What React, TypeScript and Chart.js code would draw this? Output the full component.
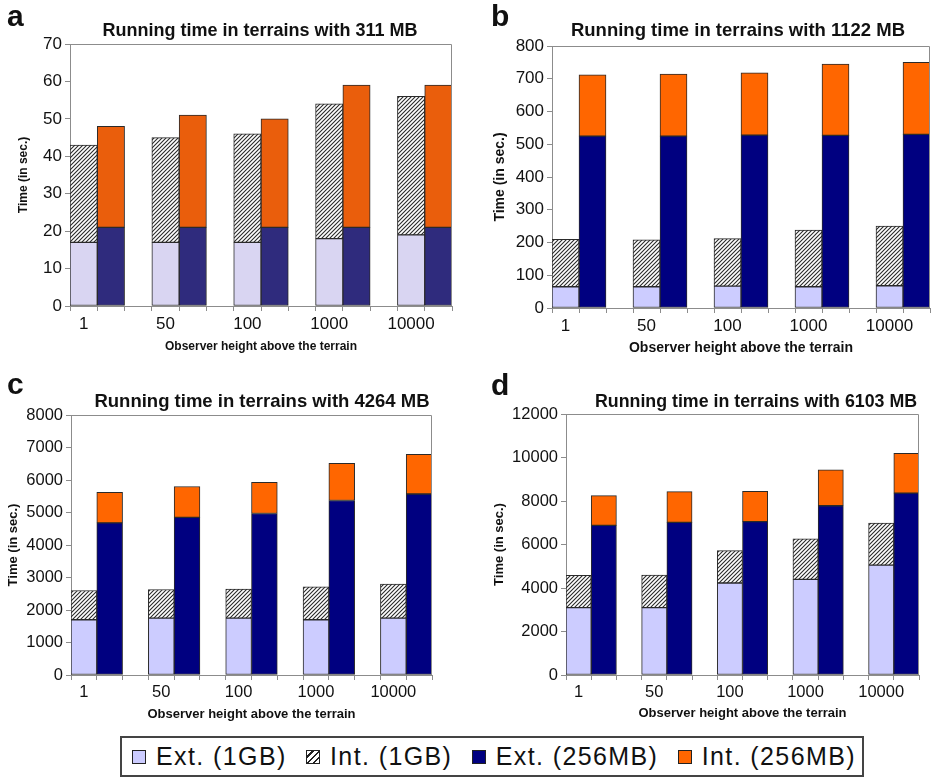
import React, { useEffect, useRef } from 'react';
import { Chart, registerables } from 'chart.js';
Chart.register(...registerables);

// ---------- data ----------
const heights = ['1', '50', '100', '1000', '10000'];
const legendLabels = ['Ext. (1GB)', 'Int. (1GB)', 'Ext. (256MB)', 'Int. (256MB)'];
const yAxisTitle = 'Time (in sec.)';
const xAxisTitle = 'Observer height above the terrain';

// panel a: 311 MB
const extA1G = [17, 17, 17, 18, 19];
const intA1G = [26, 28, 29, 36, 37];
const extA256 = [21, 21, 21, 21, 21];
const intA256 = [27, 30, 29, 38, 38];

// panel b: 1122 MB
const extB1G = [65, 65, 67, 65, 68];
const intB1G = [145, 143, 145, 173, 182];
const extB256 = [525, 525, 528, 527, 530];
const intB256 = [187, 189, 190, 218, 220];

// panel c: 4264 MB
const extC1G = [1700, 1750, 1750, 1700, 1750];
const intC1G = [900, 880, 890, 1010, 1050];
const extC256 = [4680, 4850, 4970, 5370, 5570];
const intC256 = [940, 950, 960, 1140, 1220];

// panel d: 6103 MB
const extD1G = [3100, 3100, 4230, 4400, 5050];
const intD1G = [1480, 1490, 1490, 1860, 1930];
const extD256 = [6880, 7020, 7050, 7780, 8360];
const intD256 = [1370, 1410, 1390, 1650, 1830];

const titles = [
  'Running time in terrains with 311 MB',
  'Running time in terrains with 1122 MB',
  'Running time in terrains with 4264 MB',
  'Running time in terrains with 6103 MB',
];
const letters = ['a', 'b', 'c', 'd'];
const yMax = [70, 800, 8000, 12000];
const yStep = [10, 100, 1000, 2000];

// ---------- layout / style ----------
const FONT = '"Liberation Sans", Arial, Helvetica, sans-serif';

type Panel = {
  canvas: [number, number, number, number]; // left, top, width, height (page)
  area: [number, number, number, number]; // left, top, right, bottom (page)
  yTitleX: number;
  xTitleY: number;
  tickFont: number;
  axisTitleFont: number;
  titleX: number;
  titleY: number;
  titleFont: number;
  letterX: number;
  letterBase: number;
  colors: [string, string, string];
  data: number[][];
};

const panels: Panel[] = [
  {
    canvas: [0, 0, 466, 360], area: [70, 44, 452, 306], yTitleX: 24, xTitleY: 347,
    tickFont: 17, axisTitleFont: 12, titleX: 260, titleY: 30, titleFont: 18,
    letterX: 7, letterBase: 28, colors: ['#d9d5f2', '#2f2b7d', '#ea5e0c'],
    data: [extA1G, intA1G, extA256, intA256],
  },
  {
    canvas: [466, 0, 466, 360], area: [552, 46, 930, 308], yTitleX: 500, xTitleY: 348,
    tickFont: 17, axisTitleFont: 14, titleX: 738, titleY: 30, titleFont: 18.5,
    letterX: 491, letterBase: 28, colors: ['#ccccff', '#000080', '#ff6600'],
    data: [extB1G, intB1G, extB256, intB256],
  },
  {
    canvas: [0, 380, 466, 360], area: [71, 415, 432, 675], yTitleX: 13, xTitleY: 714,
    tickFont: 16.5, axisTitleFont: 13, titleX: 262, titleY: 401, titleFont: 18.5,
    letterX: 7, letterBase: 396, colors: ['#ccccff', '#000080', '#ff6600'],
    data: [extC1G, intC1G, extC256, intC256],
  },
  {
    canvas: [466, 380, 466, 360], area: [566, 414, 919, 675], yTitleX: 499, xTitleY: 713,
    tickFont: 16.5, axisTitleFont: 13, titleX: 756, titleY: 402, titleFont: 17.8,
    letterX: 491, letterBase: 397, colors: ['#ccccff', '#000080', '#ff6600'],
    data: [extD1G, intD1G, extD256, intD256],
  },
];

const SLOTS = 14;
function spread(vals: number[], offset: number) {
  const a: (number | null)[] = Array(SLOTS).fill(null);
  vals.forEach((v, k) => { a[3 * k + offset] = v; });
  return a;
}
const slotLabels = Array.from({ length: SLOTS }, (_, i) => (i % 3 === 0 ? heights[i / 3] : ''));

function makeHatch(): CanvasPattern | string {
  const c = document.createElement('canvas');
  c.width = 4; c.height = 4;
  const g = c.getContext('2d');
  if (!g) return '#888';
  g.fillStyle = '#ffffff';
  g.fillRect(0, 0, 4, 4);
  g.strokeStyle = '#2a2a2a';
  g.lineWidth = 1.1;
  g.beginPath();
  g.moveTo(-1, 5); g.lineTo(5, -1);
  g.moveTo(-1, 1); g.lineTo(1, -1);
  g.moveTo(3, 5); g.lineTo(5, 3);
  g.stroke();
  return g.createPattern(c, 'repeat') || '#888';
}

const framePlugin = {
  id: 'frame',
  afterDatasetsDraw(chart: any) {
    const { ctx, chartArea: a } = chart;
    ctx.save();
    ctx.strokeStyle = '#8c8c8c';
    ctx.lineWidth = 1;
    ctx.beginPath();
    ctx.moveTo(Math.round(a.left) + 0.5, Math.round(a.top) + 0.5);
    ctx.lineTo(Math.round(a.right) - 0.5, Math.round(a.top) + 0.5);
    ctx.lineTo(Math.round(a.right) - 0.5, Math.round(a.bottom));
    ctx.stroke();
    ctx.restore();
  },
};

function PanelChart({ p, idx }: { p: Panel; idx: number }) {
  const ref = useRef<HTMLCanvasElement | null>(null);
  useEffect(() => {
    if (!ref.current) return;
    const [cl, ct, cw, ch] = p.canvas;
    const [al, at, ar, ab] = p.area;
    const yW = al - cl;
    const xH = ct + ch - ab;
    const yLh = p.axisTitleFont * 1.2;
    const yTitlePad = p.yTitleX - cl - yLh / 2;
    const xTitlePad = ct + ch - yLh / 2 - p.xTitleY;
    const hatch = makeHatch();
    const [c1, c2, c3] = p.colors;
    const border = '#2a2a2a';
    const common = { borderColor: border, borderWidth: 1, borderSkipped: false as const, stack: 's', barPercentage: 1, categoryPercentage: 1 };
    const chart = new Chart(ref.current, {
      type: 'bar',
      data: {
        labels: slotLabels,
        datasets: [
          { ...common, label: legendLabels[0], data: spread(p.data[0], 0), backgroundColor: c1 },
          { ...common, label: legendLabels[1], data: spread(p.data[1], 0), backgroundColor: hatch as any },
          { ...common, label: legendLabels[2], data: spread(p.data[2], 1), backgroundColor: c2 },
          { ...common, label: legendLabels[3], data: spread(p.data[3], 1), backgroundColor: c3 },
        ],
      },
      options: {
        animation: false,
        responsive: false,
        devicePixelRatio: 1,
        layout: { padding: { left: 0, top: at - ct, right: cl + cw - ar, bottom: 0 } },
        plugins: { legend: { display: false }, tooltip: { enabled: false }, title: { display: false } },
        scales: {
          x: {
            stacked: true,
            offset: true,
            grid: { offset: true, drawOnChartArea: false, drawTicks: true, tickLength: 5, color: '#8c8c8c' },
            border: { display: true, color: '#8c8c8c' },
            ticks: { autoSkip: false, maxRotation: 0, minRotation: 0, padding: 3, color: '#111', font: { family: FONT, size: p.tickFont } },
            title: { display: true, text: xAxisTitle, color: '#111', font: { family: FONT, size: p.axisTitleFont, weight: 'bold' }, padding: { top: 0, bottom: xTitlePad } },
            afterFit: (s: any) => { s.height = xH; },
          },
          y: {
            stacked: true,
            min: 0,
            max: yMax[idx],
            grid: { drawOnChartArea: false, drawTicks: true, tickLength: 5, color: '#8c8c8c' },
            border: { display: true, color: '#8c8c8c' },
            ticks: { stepSize: yStep[idx], padding: 3, color: '#111', font: { family: FONT, size: p.tickFont }, callback: (v: any) => String(v) },
            title: { display: true, text: yAxisTitle, color: '#111', font: { family: FONT, size: p.axisTitleFont, weight: 'bold' }, padding: { top: yTitlePad, bottom: 0 } },
            afterFit: (s: any) => { s.width = yW; },
          },
        },
      } as any,
      plugins: [framePlugin],
    });
    return () => chart.destroy();
  }, [p, idx]);
  const [cl, ct, cw, ch] = p.canvas;
  return (
    <canvas
      ref={ref}
      width={cw}
      height={ch}
      style={{ position: 'absolute', left: cl, top: ct, width: cw, height: ch, display: 'block' }}
    />
  );
}

const legendSwatches = [
  { background: '#ccccff' },
  { background: 'repeating-linear-gradient(-45deg, #ffffff 0px, #ffffff 3px, #222 3px, #222 4.5px)' },
  { background: '#000080' },
  { background: '#ff6600' },
];

export default function App() {
  return (
    <div style={{ position: 'absolute', left: 0, top: 0, width: 932, height: 780, background: '#fff', overflow: 'hidden', fontFamily: FONT }}>
      {panels.map((p, i) => (
        <PanelChart key={i} p={p} idx={i} />
      ))}
      {panels.map((p, i) => (
        <div key={'t' + i} style={{ position: 'absolute', left: p.titleX, top: p.titleY, transform: 'translate(-50%, -50%)', whiteSpace: 'nowrap', fontWeight: 'bold', fontSize: p.titleFont, color: '#111', lineHeight: 1 }}>
          {titles[i]}
        </div>
      ))}
      {panels.map((p, i) => (
        <div key={'l' + i} style={{ position: 'absolute', left: p.letterX, top: p.letterBase - 30 * 0.905, fontWeight: 'bold', fontSize: 30, lineHeight: '30px', color: '#111', height: 30 }}>
          {letters[i]}
        </div>
      ))}
      <div style={{ position: 'absolute', left: 120, top: 736, width: 744, height: 41, boxSizing: 'border-box', border: '2px solid #444', background: '#fff', display: 'flex', alignItems: 'center', justifyContent: 'space-between', padding: '0 6px 0 10px', fontSize: 25, letterSpacing: 1.4, color: '#111' }}>
        {legendLabels.map((t, i) => (
          <div key={t} style={{ display: 'flex', alignItems: 'center', gap: 10 }}>
            <span style={{ display: 'inline-block', width: 14, height: 14, boxSizing: 'border-box', border: '1px solid #222', ...legendSwatches[i] }} />
            <span>{t}</span>
          </div>
        ))}
      </div>
    </div>
  );
}
